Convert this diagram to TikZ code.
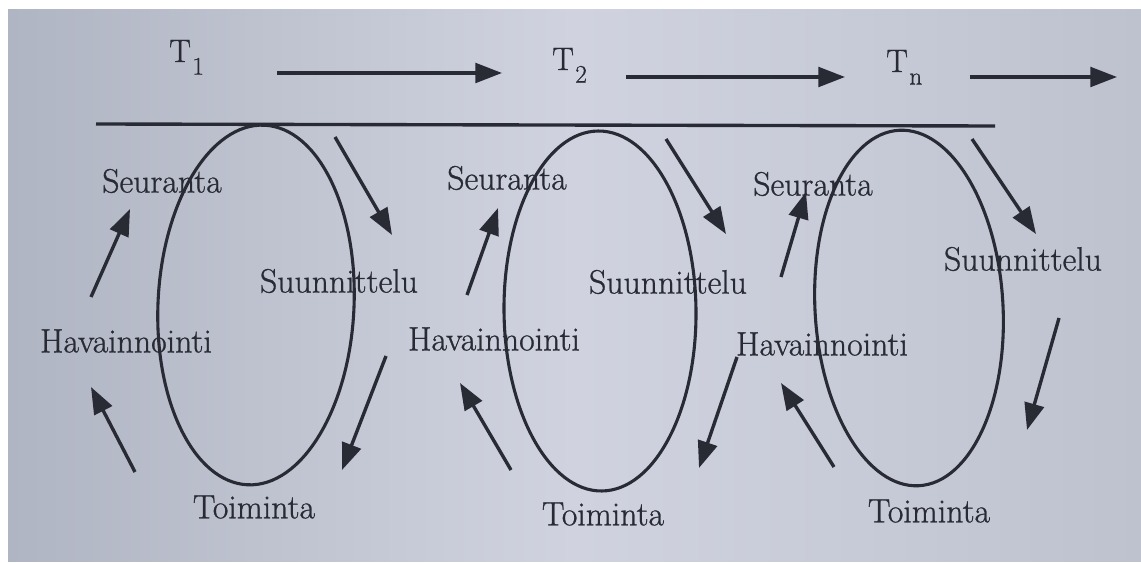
\documentclass[tikz,border=0pt]{standalone}
\usepackage{fontspec}
\newfontfamily\labelfont{Latin Modern Roman}[FakeBold=0.8]
\usetikzlibrary{arrows.meta}
\definecolor{ink}{RGB}{40,42,52}
\definecolor{paperleft}{RGB}{176,181,195}
\definecolor{papermid}{RGB}{208,211,223}
\definecolor{paperright}{RGB}{190,194,207}
\newcommand{\tsub}[2]{#1\kern1pt\raisebox{-9pt}{\fontsize{18}{20}\selectfont #2}}
\begin{document}
\begin{tikzpicture}[
    x=0.025cm, y=-0.025cm,
    lbl/.style={font=\labelfont\fontsize{24}{28}\selectfont, text=ink, inner sep=0pt},
    tlbl/.style={font=\labelfont\fontsize{23}{27}\selectfont, text=ink, inner sep=0pt, anchor=base west},
    cyclering/.style={draw=ink, line width=2.2pt},
    flowarrow/.style={draw=ink, line width=2.4pt, -{Triangle[length=19pt, width=14pt]}}
]
    \useasboundingbox (0,0) rectangle (1141,563);
    \fill[white] (0,0) rectangle (1141,563);
    \shade[left color=paperleft, right color=paperright, middle color=papermid] (8,10) rectangle (1141,561);

    % time line
    \node[tlbl] (t1) at (169,62) {\tsub{T}{1}};
    \node[tlbl] (t2) at (552,70) {\tsub{T}{2}};
    \node[tlbl] (tn) at (886,72) {\tsub{T}{n}};
    \coordinate (t12t) at (277,73);  \coordinate (t12h) at (502,73);
    \coordinate (t2nt) at (626,77);  \coordinate (t2nh) at (845,77);
    \coordinate (tnxt) at (970,77);  \coordinate (tnxh) at (1117,77);
    \draw[flowarrow] (t12t) -- (t12h);
    \draw[flowarrow] (t2nt) -- (t2nh);
    \draw[flowarrow] (tnxt) -- (tnxh);
    \coordinate (axisstart) at (96,124);
    \coordinate (axisend) at (995,126);
    \draw[cyclering, line width=2.4pt] (axisstart) -- (axisend);

    % cycles
    \draw[cyclering, rotate around={-2.7:(256,305)}] (256,305) ellipse [x radius=98, y radius=180];
    \draw[cyclering, rotate around={0.6:(600,311)}] (600,311) ellipse [x radius=96, y radius=180];
    \draw[cyclering, rotate around={3.2:(909,308)}] (909,308) ellipse [x radius=94, y radius=178];

    % labels
    \node[lbl] (seur1) at (162,181) {Seuranta};
    \node[lbl] (suun1) at (339,281) {Suunnittelu};
    \node[lbl] (hava1) at (126,341) {Havainnointi};
    \node[lbl] (toim1) at (254,507) {Toiminta};
    \node[lbl] (seur2) at (507,178) {Seuranta};
    \node[lbl] (suun2) at (668,282) {Suunnittelu};
    \node[lbl] (hava2) at (494,339) {Havainnointi};
    \node[lbl] (toim2) at (603,514) {Toiminta};
    \node[lbl] (seur3) at (813,184) {Seuranta};
    \node[lbl] (suun3) at (1023,259) {Suunnittelu};
    \node[lbl] (hava3) at (822,344) {Havainnointi};
    \node[lbl] (toim3) at (929,511) {Toiminta};

    % arrows between phases
    \coordinate (hs1t) at (91,297);   \coordinate (hs1h) at (130,209);
    \coordinate (ss1t) at (335,137);  \coordinate (ss1h) at (392,235);
    \coordinate (st1t) at (386,356);  \coordinate (st1h) at (342,470);
    \coordinate (th1t) at (135,472);  \coordinate (th1h) at (91,387);
    \coordinate (hs2t) at (467,295);  \coordinate (hs2h) at (498,208);
    \coordinate (ss2t) at (666,139);  \coordinate (ss2h) at (726,234);
    \coordinate (st2t) at (737,357);  \coordinate (st2h) at (699,468);
    \coordinate (th2t) at (511,470);  \coordinate (th2h) at (460,383);
    \coordinate (hs3t) at (781,277);  \coordinate (hs3h) at (806,192);
    \coordinate (ss3t) at (972,139);  \coordinate (ss3h) at (1036,234);
    \coordinate (st3t) at (1059,318); \coordinate (st3h) at (1027,430);
    \coordinate (th3t) at (834,467);  \coordinate (th3h) at (781,383);
    \draw[flowarrow] (hs1t) -- (hs1h);
    \draw[flowarrow] (ss1t) -- (ss1h);
    \draw[flowarrow] (st1t) -- (st1h);
    \draw[flowarrow] (th1t) -- (th1h);
    \draw[flowarrow] (hs2t) -- (hs2h);
    \draw[flowarrow] (ss2t) -- (ss2h);
    \draw[flowarrow] (st2t) -- (st2h);
    \draw[flowarrow] (th2t) -- (th2h);
    \draw[flowarrow] (hs3t) -- (hs3h);
    \draw[flowarrow] (ss3t) -- (ss3h);
    \draw[flowarrow] (st3t) -- (st3h);
    \draw[flowarrow] (th3t) -- (th3h);
\end{tikzpicture}
\end{document}
